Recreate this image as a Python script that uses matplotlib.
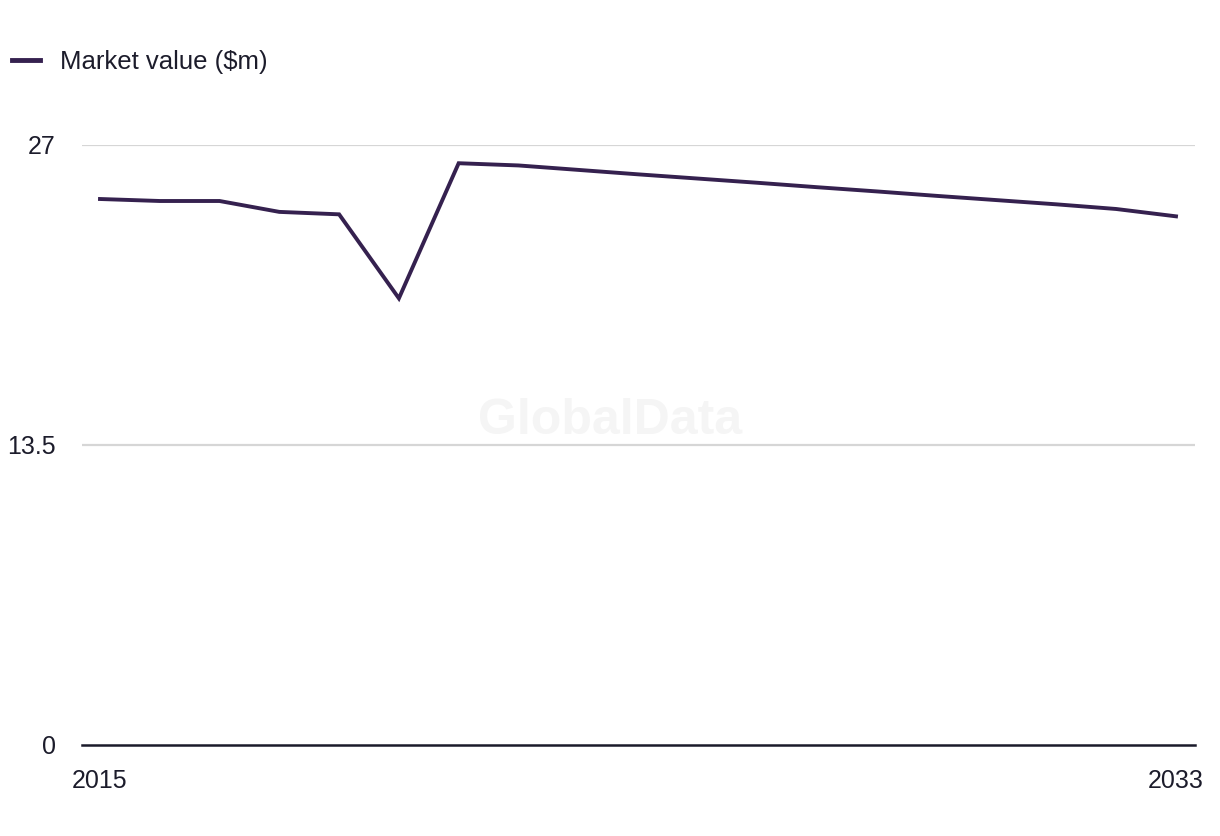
import matplotlib
matplotlib.use("Agg")
import matplotlib.pyplot as plt

years = list(range(2015, 2034))
market_value = [24.57, 24.48, 24.48, 23.99, 23.88, 20.1, 26.18, 26.08,
                25.88, 25.68, 25.49, 25.30, 25.10, 24.91, 24.71, 24.52,
                24.33, 24.12, 23.79]
series_label = "Market value ($m)"
y_ticks = [0, 13.5, 27]
y_tick_labels = ["0", "13.5", "27"]
x_ticks = [2015, 2033]
x_tick_labels = ["2015", "2033"]

plt.rcParams['font.family'] = ['Liberation Sans', 'DejaVu Sans']
text_color = "#1c1c2b"
line_color = "#35214f"

fig = plt.figure(figsize=(12.2, 8.36), dpi=100)
ax = fig.add_axes([82/1220, 1 - 745/836, (1195-82)/1220, (745-145)/836])

ax.plot(years, market_value, color=line_color, linewidth=2.8,
        label=series_label, solid_joinstyle='miter', zorder=3)

ax.set_xlim(2015 - 18/59.78, 2033 + 19/59.78)
ax.set_ylim(0, 27)

ax.set_yticks(y_ticks)
ax.set_yticklabels(y_tick_labels)
ax.set_xticks(x_ticks)
ax.set_xticklabels(x_tick_labels)
ax.tick_params(axis='both', length=0, labelsize=18, colors=text_color)
ax.tick_params(axis='y', pad=19)
ax.tick_params(axis='x', pad=17.5)

for yv in y_ticks[1:]:
    ax.axhline(yv, color="#d6d6d6", linewidth=1.6, zorder=1)

for s in ['top', 'right', 'left']:
    ax.spines[s].set_visible(False)
ax.spines['bottom'].set_color("#1a1a2a")
ax.spines['bottom'].set_linewidth(1.8)

fig.text(610/1220, 1 - 421/836, "GlobalData", ha='center', va='center',
         fontsize=36, fontweight='bold', color="#f5f5f5", zorder=0)

leg = fig.legend(loc='center left', bbox_to_anchor=(12/1220, 1 - 62/836),
                 frameon=False, fontsize=18.5, handlelength=1.1,
                 handletextpad=0.75, borderpad=0, borderaxespad=0,
                 labelcolor=text_color)
for h in leg.get_lines():
    h.set_linewidth(3.5)

fig.savefig("out.png", dpi=100, facecolor="white")
